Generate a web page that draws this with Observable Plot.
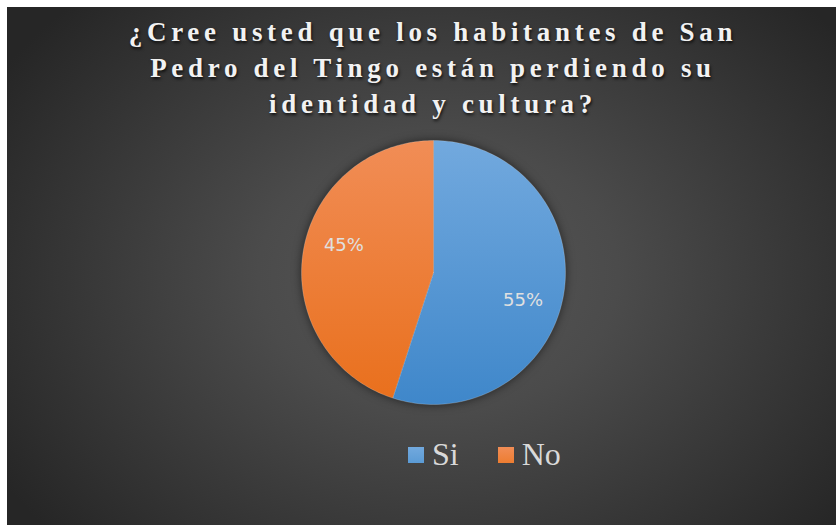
<!DOCTYPE html>
<html>
<head>
<meta charset="utf-8">
<script src="https://cdn.jsdelivr.net/npm/d3@7"></script>
<script src="https://cdn.jsdelivr.net/npm/@observablehq/plot@0.6"></script>
<style>
  html, body { margin: 0; padding: 0; background: #ffffff; }
  body { width: 836px; height: 525px; position: relative; overflow: hidden; }
  #bg { position: absolute; left: 7px; top: 7px; width: 829px; height: 518px;
        background: radial-gradient(ellipse 62% 75% at 52% 52%, #575757 0%, #4b4b4b 35%, #262626 100%); }
  #title { position: absolute; left: 0px; width: 866px; top: 14px; text-align: center;
           font-family: "Liberation Serif", "Times New Roman", serif; font-weight: bold;
           font-size: 27px; line-height: 36px; letter-spacing: 4.7px; color: #f2f2f2;
           text-shadow: 1px 2px 3px rgba(0,0,0,0.75); }
  #pie { position: absolute; left: 301px; top: 140px; }
  #pie svg { overflow: visible; }
  #pie g[aria-label="line"] { filter: drop-shadow(0px 0px 5px rgba(0,0,0,0.55)); }
  #legend { position: absolute; left: 408px; top: 436px; display: flex; align-items: center;
            font-family: "Liberation Serif", "Times New Roman", serif; font-size: 32px; color: #d9d9d9; }
  .item { display: flex; align-items: center; }
  .sw { width: 16px; height: 16px; margin-right: 8px; }
</style>
</head>
<body>
<svg width="0" height="0" style="position:absolute">
  <defs>
    <linearGradient id="gSi" x1="0" y1="0" x2="0" y2="1">
      <stop offset="0" stop-color="#72a9de"/>
      <stop offset="1" stop-color="#3f87ca"/>
    </linearGradient>
    <linearGradient id="gNo" x1="0" y1="0" x2="0" y2="1">
      <stop offset="0" stop-color="#f18d56"/>
      <stop offset="1" stop-color="#e9701d"/>
    </linearGradient>
  </defs>
</svg>
<div id="bg"></div>
<div id="title"></div>
<div id="pie"></div>
<div id="legend"></div>
<script>
const titleLines = ["¿Cree usted que los habitantes de San", "Pedro del Tingo están perdiendo su", "identidad y cultura?"];
const categories = ["Si", "No"];
const values = [55, 45];
const labels = ["55%", "45%"];
const fills = ["url(#gSi)", "url(#gNo)"];
const swatchColors = ["#5b9bd5", "#ed7d31"];

document.getElementById("title").innerHTML = titleLines.join("<br>");

const arcs = d3.pie().sort(null)(values);
const polys = [];
arcs.forEach((a, i) => {
  polys.push({cat: categories[i], x: 0, y: 0});
  const n = 120;
  for (let k = 0; k <= n; k++) {
    const t = a.startAngle + (a.endAngle - a.startAngle) * k / n;
    polys.push({cat: categories[i], x: Math.sin(t), y: Math.cos(t)});
  }
  polys.push({cat: categories[i], x: 0, y: 0});
});
const labelPts = arcs.map((a, i) => {
  const m = (a.startAngle + a.endAngle) / 2 + 0.14;
  return {label: labels[i], x: 0.71 * Math.sin(m), y: 0.71 * Math.cos(m)};
});

const chart = Plot.plot({
  width: 264, height: 264, margin: 0,
  x: {domain: [-1, 1], axis: null},
  y: {domain: [-1, 1], axis: null},
  color: {type: "ordinal", domain: categories, range: fills},
  style: {background: "transparent"},
  marks: [
    Plot.line(polys, {x: "x", y: "y", z: "cat", fill: "cat", stroke: "#ffffff", strokeOpacity: 0.25, strokeWidth: 0.8, curve: "linear"}),
    Plot.text(labelPts, {x: "x", y: "y", text: "label", fill: "#e0e0e0", fontSize: 18, fontFamily: "DejaVu Sans"})
  ]
});
document.getElementById("pie").appendChild(chart);

const legend = document.getElementById("legend");
categories.forEach((c, i) => {
  const it = document.createElement("div");
  it.className = "item";
  it.style.marginRight = i === 0 ? "39px" : "0";
  it.innerHTML = `<div class="sw" style="background:linear-gradient(#${i===0?"72a9de":"f18d56"}, ${swatchColors[i]})"></div><span>${c}</span>`;
  legend.appendChild(it);
});
</script>
</body>
</html>
